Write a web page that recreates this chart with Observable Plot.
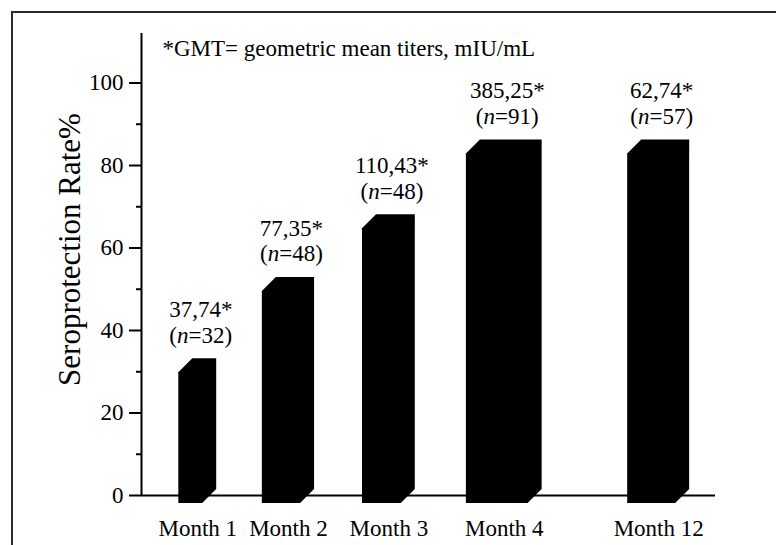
<!DOCTYPE html>
<html><head><meta charset="utf-8">
<script src="https://cdn.jsdelivr.net/npm/d3@7"></script>
<script src="https://cdn.jsdelivr.net/npm/@observablehq/plot@0.6"></script>
<style>
body{margin:0;background:#fff;}
#wrap{position:relative;width:776px;height:545px;overflow:hidden;background:#fff;}
#frame{position:absolute;left:11px;top:11px;right:-10px;bottom:-10px;border-top:2.5px solid #2b2b2b;border-left:2.5px solid #2b2b2b;pointer-events:none;}
</style></head><body>
<div id="wrap"><div id="chart"></div><div id="frame"></div></div>
<script>
// ---- data ----
const months = ["Month 1", "Month 2", "Month 3", "Month 4", "Month 12"];
const rates = [31.7, 51.4, 66.6, 84.7, 84.7];
const gmt = ["37,74", "77,35", "110,43", "385,25", "62,74"];
const nSubjects = [32, 48, 48, 91, 57];
const yTicks = [0, 20, 40, 60, 80, 100];
const yMinorTicks = [10, 30, 50, 70, 90];
const note = "*GMT= geometric mean titers, mIU/mL";
const yLabel = "Seroprotection Rate%";

// ---- layout (percent of x-axis length) ----
const barCenter = [9.8, 25.6, 43.1, 63.2, 90.1];
const barWidth = [6.6, 9.1, 9.2, 13.2, 10.8];

const data = months.map((m, i) => ({
  month: m, rate: rates[i], gmt: gmt[i], n: nSubjects[i],
  c: barCenter[i], w: barWidth[i]
}));

const FONT = "'Liberation Serif', 'DejaVu Serif', serif";

const svg = Plot.plot({
  width: 776, height: 545,
  marginLeft: 141, marginRight: 61, marginTop: 33, marginBottom: 50,
  style: {fontFamily: FONT, color: "#000", background: "#fff", overflow: "visible"},
  x: {type: "linear", domain: [0, 100], axis: null},
  y: {domain: [0, 112], axis: null},
  marks: [
    Plot.ruleY([0], {x1: 0, x2: 100, stroke: "#000", strokeWidth: 2}),
    Plot.axisY({ticks: yMinorTicks, tickSize: 5, tickFormat: () => "", label: null, strokeWidth: 2}),
    Plot.axisY({ticks: yTicks, tickSize: 12, tickPadding: 6, fontSize: 23, label: null, strokeWidth: 2}),
    Plot.ruleX([0], {y1: 0, y2: 112, stroke: "#000", strokeWidth: 2}),
    Plot.rect(data, {
      x1: d => d.c - d.w / 2, x2: d => d.c + d.w / 2, y1: 0, y2: "rate", fill: "#000",
      render(index, scales, values) {
        const g = d3.create("svg:g");
        const D = 14, lift = 6;
        for (const i of index) {
          const L = values.x1[i], R = values.x2[i];
          const T = values.y2[i] - lift, B = values.y1[i] - lift;
          const pts = [[L, T + D], [L + D, T], [R, T], [R, B], [R - D, B + D], [L, B + D]];
          g.append("path").attr("d", "M" + pts.map(p => p.join(",")).join("L") + "Z").attr("fill", "#000");
        }
        return g.node();
      }
    }),
    Plot.text(data, {
      x: "c", y: "rate", text: d => `${d.gmt}*\n(n=${d.n})`,
      lineAnchor: "bottom", dy: -22, dx: 3, fontSize: 23, lineHeight: 1.12, fill: "#000"
    }),
    Plot.text(data, {x: "c", y: 0, text: "month", lineAnchor: "bottom", dy: 40, fontSize: 23, fill: "#000"}),
    Plot.text([note], {frameAnchor: "top-left", textAnchor: "start", lineAnchor: "bottom", dx: 21, dy: 22, fontSize: 23, fill: "#000"}),
    Plot.text([yLabel], {frameAnchor: "left", textAnchor: "middle", rotate: -90, lineAnchor: "bottom", dx: -62, dy: -15, fontSize: 31, fill: "#000"})
  ]
});

// italic "n" in the (n=..) lines
d3.select(svg).selectAll("tspan").each(function () {
  const m = this.textContent.match(/^\(n=(\d+)\)$/);
  if (m) {
    const s = d3.select(this);
    s.text("(");
    s.append("tspan").attr("font-style", "italic").text("n");
    s.append("tspan").text(`=${m[1]})`);
  }
});

document.getElementById("chart").appendChild(svg);
</script>
</body></html>
